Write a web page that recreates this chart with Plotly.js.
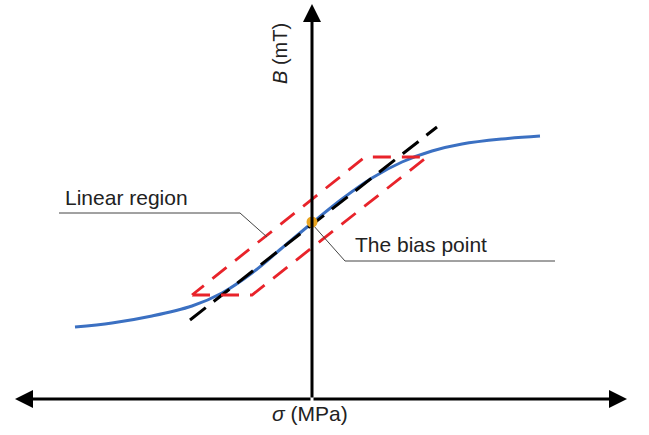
<!DOCTYPE html>
<html>
<head>
<meta charset="utf-8">
<script src="https://cdn.plot.ly/plotly-3.0.1.min.js"></script>
<style>html,body{margin:0;padding:0;background:#fff;}#chart{width:649px;height:435px;}</style>
</head>
<body>
<div id="chart"></div>
<script>
// B–σ characteristic (schematic units)
const curveSigma = [-237, -200, -160, -120, -90, -60, -30, 0, 30, 60, 90, 120, 150, 190, 228];
const curveB     = [72, 76, 83, 93, 106, 126, 151, 176, 200, 221, 237, 248, 255, 260, 263];

// tangent (linear fit) through the bias point
const tangentSigma = [-122, 125];
const tangentB     = [79, 272];

// linear region parallelogram
const regionSigma = [-120, -60, 115, 53, -120];
const regionB     = [104, 104, 242, 242, 104];

// bias point
const biasSigma = [0];
const biasB     = [177];

// leader lines for labels
const leaderLinearSigma = [-253, -72, -45];
const leaderLinearB     = [186, 186, 162];
const leaderBiasSigma   = [1, 33, 243];
const leaderBiasB       = [174, 138, 138];

// axis extents
const axisXMin = -297, axisXMax = 315, axisYMax = 395;

const labels = {
  linear: 'Linear region',
  bias: 'The bias point',
  xTitle: '<i>σ</i> (MPa)',
  yTitle: '<i>B</i> (mT)'
};

const FONT = 'Liberation Sans, Arial, sans-serif';

const traces = [
  {x: curveSigma, y: curveB, mode: 'lines', line: {color: '#3b70c2', width: 3, shape: 'spline', smoothing: 1}, hoverinfo: 'skip'},
  {x: tangentSigma, y: tangentB, mode: 'lines', line: {color: '#000', width: 3, dash: '20px,10px'}, hoverinfo: 'skip'},
  {x: regionSigma, y: regionB, mode: 'lines', line: {color: '#e8232a', width: 2.8, dash: '18px,11px'}, hoverinfo: 'skip'},
  {x: leaderLinearSigma, y: leaderLinearB, mode: 'lines', line: {color: '#444', width: 1}, hoverinfo: 'skip'},
  {x: leaderBiasSigma, y: leaderBiasB, mode: 'lines', line: {color: '#444', width: 1}, hoverinfo: 'skip'},
  {x: biasSigma, y: biasB, mode: 'markers', marker: {color: '#eaa622', size: 11}, hoverinfo: 'skip'}
];

function axisArrow(x, y, ax, ay) {
  return {x: x, y: y, ax: ax, ay: ay, xref: 'x', yref: 'y', axref: 'x', ayref: 'y',
          text: '', showarrow: true, arrowhead: 2, arrowsize: 1.2, arrowwidth: 3,
          arrowcolor: '#000', standoff: 0, startstandoff: 0};
}

const layout = {
  width: 649, height: 435,
  margin: {l: 0, r: 0, t: 0, b: 0},
  paper_bgcolor: '#fff', plot_bgcolor: '#fff',
  showlegend: false,
  xaxis: {range: [-312, 337], visible: false, fixedrange: true},
  yaxis: {range: [-36, 399], visible: false, fixedrange: true},
  font: {family: FONT, color: '#222'},
  annotations: [
    axisArrow(0, axisYMax, 0, 0),
    axisArrow(axisXMax, 0, 0, 0),
    axisArrow(axisXMin, 0, 0, 0),
    {x: -249, y: 202, xref: 'x', yref: 'y', text: labels.linear, showarrow: false,
     xanchor: 'left', yanchor: 'middle', font: {size: 21, family: FONT, color: '#222'}},
    {x: 41, y: 155, xref: 'x', yref: 'y', text: labels.bias, showarrow: false,
     xanchor: 'left', yanchor: 'middle', font: {size: 21, family: FONT, color: '#222'}},
    {x: -2, y: -14, xref: 'x', yref: 'y', text: labels.xTitle, showarrow: false,
     xanchor: 'center', yanchor: 'middle', font: {size: 21, family: FONT, color: '#222'}},
    {x: -32, y: 345, xref: 'x', yref: 'y', text: labels.yTitle, showarrow: false, textangle: -90,
     xanchor: 'center', yanchor: 'middle', font: {size: 20, family: FONT, color: '#222'}}
  ]
};

Plotly.newPlot('chart', traces, layout, {staticPlot: true, displayModeBar: false});
</script>
</body>
</html>
